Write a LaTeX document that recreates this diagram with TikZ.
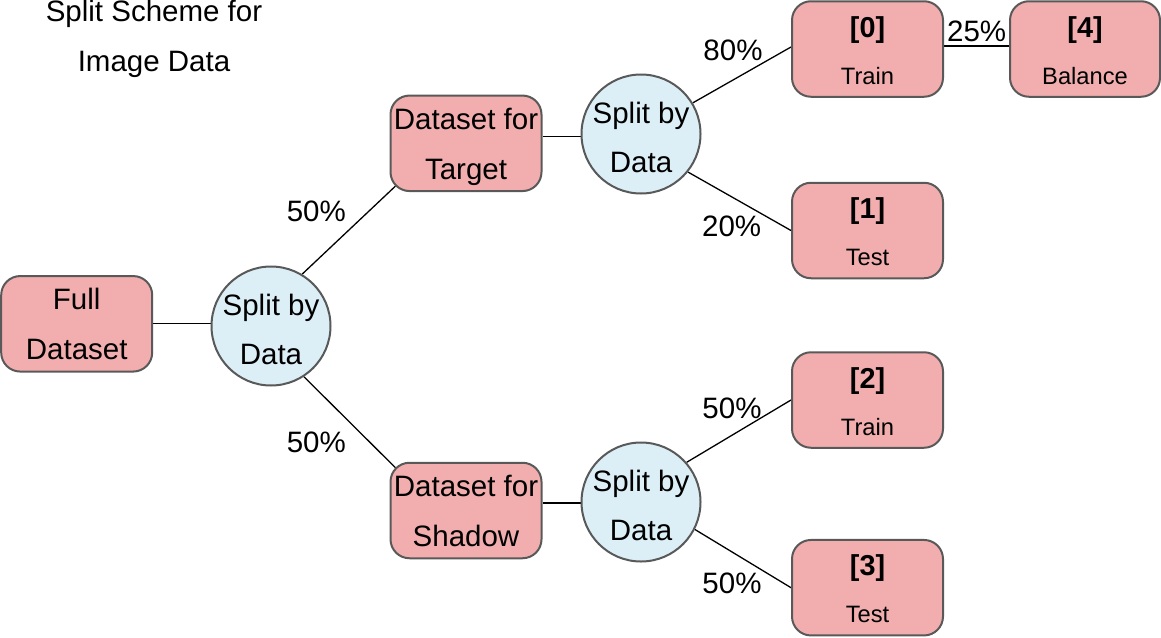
\documentclass[tikz,border=0pt]{standalone}
\usepackage{fontspec}
\setmainfont{Liberation Sans}
\usetikzlibrary{backgrounds}
\definecolor{boxpink}{RGB}{242,174,174}
\definecolor{circcyan}{RGB}{220,239,247}
\definecolor{bordergray}{RGB}{89,89,89}
\tikzset{
  box/.style={draw=bordergray, line width=2pt, fill=boxpink, rounded corners=19pt,
    minimum width=151pt, minimum height=95.5pt, inner sep=0pt},
  splitc/.style={circle, draw=bordergray, line width=2pt, fill=circcyan,
    minimum size=119pt, inner sep=0pt},
  bigf/.style={font=\fontsize{29.5}{34}\selectfont},
  numf/.style={font=\fontsize{28.8}{34}\selectfont\bfseries},
  namef/.style={font=\fontsize{23.7}{28}\selectfont},
  lbl/.style={inner sep=0pt, text height=20pt, text depth=0pt},
  topline/.style={label={[bigf,lbl,yshift=24pt]center:{#1}}},
  botline/.style={label={[bigf,lbl,yshift=-25.8pt]center:{#1}}},
  ctop/.style={label={[bigf,lbl,yshift=21pt]center:{#1}}},
  cbot/.style={label={[bigf,lbl,yshift=-28pt]center:{#1}}},
  numline/.style={label={[numf,lbl,yshift=22pt]center:{#1}}},
  nameline/.style={label={[namef,lbl,yshift=-25pt]center:{#1}}},
  pct/.style={bigf, anchor=base, inner sep=0pt},
  edge/.style={draw=black, line width=1.3pt},
}
\begin{document}
\begin{tikzpicture}[x=1pt,y=1pt]
\useasboundingbox (0,0) rectangle (1161,-637);
% title
\node[pct] (title1) at (154,-21.7) {Split Scheme for};
\node[pct] (title2) at (154,-71) {Image Data};
% nodes
\node[box, topline=Full, botline=Dataset] (full) at (76.7,-323.8) {};
\node[splitc, ctop={Split by}, cbot=Data] (c1) at (271,-326) {};
\node[box, topline={Dataset for}, botline=Target] (target) at (466,-143.3) {};
\node[box, topline={Dataset for}, botline=Shadow] (shadow) at (466,-510.5) {};
\node[splitc, ctop={Split by}, cbot=Data] (c2) at (641,-134) {};
\node[splitc, ctop={Split by}, cbot=Data] (c3) at (641,-502) {};
\node[box, numline={[0]}, nameline=Train] (b0) at (867.5,-49) {};
\node[box, minimum width=150pt, numline={[4]}, nameline=Balance] (b4) at (1085,-49) {};
\node[box, numline={[1]}, nameline=Test] (b1) at (867.5,-230.5) {};
\node[box, numline={[2]}, nameline=Train] (b2) at (867.5,-400) {};
\node[box, numline={[3]}, nameline=Test] (b3) at (867.5,-587.7) {};
% percentages
\node[pct] (p1) at (316.3,-221.7) {50\%};
\node[pct] (p2) at (316.3,-452) {50\%};
\node[pct] (p3) at (733,-60) {80\%};
\node[pct] (p4) at (731.7,-236) {20\%};
\node[pct] (p5) at (732,-418) {50\%};
\node[pct] (p6) at (732,-593) {50\%};
\node[pct] (p7) at (976.7,-41) {25\%};
% connectors
\begin{pgfonlayer}{background}
\draw[edge] (full.center) -- (full.center -| c1.center);
\draw[edge] (c1.59) -- ([shift={(6,6)}]target.south west);
\draw[edge] (c1.-57) -- ([shift={(6,-6)}]shadow.north west);
\draw[edge] ([yshift=6.6]target.east) -- ([yshift=6.6]target.east -| c2.center);
\draw[edge] ([yshift=7.5]shadow.east) -- ([yshift=7.5]shadow.east -| c3.center);
\draw[edge] (c2.31) -- ([yshift=2]b0.west);
\draw[edge] (c2.-39) -- (b1.west);
\draw[edge] (c3.41) -- (b2.west);
\draw[edge] (c3.-27) -- (b3.west);
\draw[edge] ([yshift=3]b0.center) -- ([yshift=3]b4.center);
\end{pgfonlayer}
\end{tikzpicture}
\end{document}
